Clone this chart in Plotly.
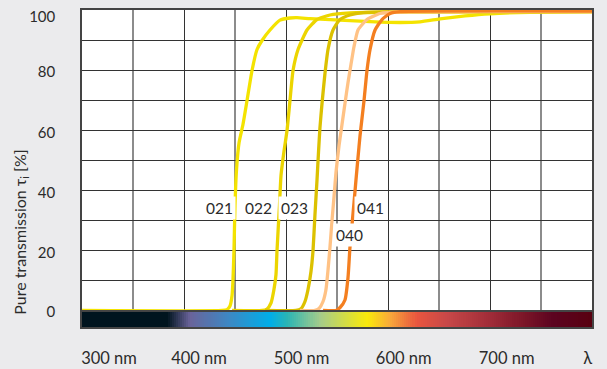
import numpy as np
import plotly.graph_objects as go

# ---- data (wavelength in nm, transmission in %) ----
wl_021 = [300, 437.3, 442.2, 445.1, 447.1, 448, 449, 450, 451.5, 454, 457.8, 461.8, 466.7, 471.6, 476.5,
          484.3, 494.1, 503.9, 510.8, 523.5, 552.9, 582.4, 611.8, 631.4, 651, 675.5, 700, 739.2, 800]
tr_021 = [0, 0, 0.3, 1.5, 5, 10, 20, 35, 47, 56, 62, 70, 80, 87, 90,
          93.5, 96.8, 97.5, 97.6, 97.3, 96.8, 96.3, 96, 96.2, 97.2, 98.2, 98.9, 99.4, 99.6]

wl_022 = [447.1, 476.5, 481.4, 485.3, 488.2, 490.2, 491.2, 493.6, 495.1, 498, 501, 503.9, 506.9, 511.8,
          520.6, 530.4, 543.1, 562.7, 611.8, 800]
tr_022 = [0, 0, 0.5, 2.5, 7, 12, 20, 35, 45, 53, 60, 70, 80, 87,
          93.5, 97, 98.5, 99.2, 99.5, 99.6]

wl_023 = [479.4, 509.8, 514.7, 518.6, 521.6, 524.5, 526.5, 528.4, 530.4, 531.9, 533.3, 535.3, 538.2, 541.2,
          546.1, 552.9, 562.7, 575.5, 611.8, 800]
tr_023 = [0, 0, 0.6, 3, 7, 13, 20, 32, 43.5, 53, 61, 69, 79, 87,
          93.5, 97, 98.5, 99.3, 99.6, 99.6]

wl_040 = [513.7, 527.5, 532.4, 536.3, 539.2, 541.2, 543.1, 545.1, 547.1, 549, 552, 554.9, 557.8, 560.8,
          563.7, 566.7, 570.6, 579.4, 592.2, 611.8, 800]
tr_040 = [0, 0, 0.7, 3, 7, 13.5, 21, 30, 38, 46, 55, 62, 69, 76,
          82, 88, 93.5, 97, 99, 99.5, 99.6]

wl_041 = [536.3, 549, 553, 557.8, 560.8, 562.7, 564.7, 566.7, 568.6, 570.6, 572.5, 574.5, 576.5, 579.4,
          582.4, 587.3, 594.1, 602, 611.8, 800]
tr_041 = [0, 0, 1, 3.5, 11, 21, 28.5, 36, 43.5, 51, 58, 64, 70, 80,
          87, 93.5, 97, 99, 99.6, 99.8]

series_names = ["021", "022", "023", "040", "041"]
series_wl = [wl_021, wl_022, wl_023, wl_040, wl_041]
series_tr = [tr_021, tr_022, tr_023, tr_040, tr_041]
series_colors = ["#f4e300", "#ecd500", "#dcc100", "#ffc285", "#f47f20"]

# label anchor points (nm, %)
label_wl = [434.8, 473.0, 508.8, 561.8, 582.4]
label_tr = [34.2, 34.2, 34.2, 25.2, 34.2]

# x tick labels
xtick_vals = [326.5, 414.7, 515.2, 615.4, 716.3, 795.8]
xtick_text = ["300 nm", "400 nm", "500 nm", "600 nm", "700 nm", "λ"]

ytick_vals = [-0.4, 19.3, 39.3, 59.4, 79.7, 97.8]
ytick_text = ["0", "20", "40", "60", "80", "100"]

# spectrum colour ramp
spec_stops = [0.0, 0.1666, 0.2118, 0.2844, 0.3686, 0.402, 0.4666, 0.5588, 0.604, 0.6568, 0.7156, 0.8, 0.8648, 0.9236, 1.0]
spec_cols = ["#00141e", "#00141e", "#6a639a", "#3f86c2", "#00aee8", "#2ab5b5", "#a5cc8a", "#faea0a",
             "#f9a93a", "#e8553f", "#c84848", "#a02c38", "#7c1628", "#5c0420", "#580010"]

FONT = "Lato"
TXT = "#2b2b2b"
DARK = "#333333"
GRAY = "#8c8c8c"

fig = go.Figure()

# spectrum bar
edges = np.arange(300, 802, 2)
mids = (edges[:-1] + edges[1:]) / 2
fig.add_trace(go.Heatmap(
    x=edges, y=[0, 1], z=[mids], xaxis="x2", yaxis="y2",
    colorscale=[[s, c] for s, c in zip(spec_stops, spec_cols)],
    zmin=300, zmax=800, showscale=False, hoverinfo="skip"))

for name, wl, tr, col in zip(series_names, series_wl, series_tr, series_colors):
    fig.add_trace(go.Scatter(x=wl, y=tr, mode="lines", name=name,
                             line=dict(color=col, width=3.3, shape="spline", smoothing=0.5),
                             showlegend=False))

for name, lx, ly in zip(series_names, label_wl, label_tr):
    fig.add_annotation(x=lx, y=ly, xref="x", yref="y", text=name, showarrow=False,
                       font=dict(family=FONT, size=15.5, color=TXT),
                       bgcolor="white", borderpad=2, xanchor="center", yanchor="middle")

fig.add_annotation(x=-0.12, y=0.3, xref="paper", yref="paper",
                   text="Pure transmission τ<sub>i</sub> [%]", textangle=-90, showarrow=False,
                   font=dict(family=FONT, size=16, color=TXT), xanchor="center", yanchor="middle")

bar_top = 15 / 317
fig.update_layout(
    width=607, height=369,
    margin=dict(l=82, r=15, t=10, b=42, autoexpand=False),
    paper_bgcolor="#ebebed", plot_bgcolor="white",
    font=dict(family=FONT, color=TXT),
    xaxis=dict(domain=[0, 1], range=[300, 800], anchor="y", automargin=False,
               tick0=300, dtick=100, showgrid=True, gridcolor=DARK, gridwidth=1.3,
               minor=dict(tick0=300, dtick=50, showgrid=True, gridcolor=GRAY, gridwidth=1.5),
               showticklabels=False, ticks="", zeroline=False,
               showline=True, linecolor="#444", linewidth=1.5, mirror=True),
    yaxis=dict(domain=[bar_top, 1], range=[-0.5, 100.17], anchor="x", automargin=False,
               tickvals=ytick_vals, ticktext=ytick_text, showgrid=False,
               minor=dict(tick0=0, dtick=10, showgrid=True, gridcolor=DARK, gridwidth=1.3),
               ticks="", ticklabelstandoff=22, tickfont=dict(size=15, family=FONT, color=TXT),
               zeroline=False, showline=True, linecolor="#444", linewidth=1.5, mirror=True),
    xaxis2=dict(domain=[0, 1], range=[300, 800], anchor="y2", matches="x", automargin=False,
                tickvals=xtick_vals, ticktext=xtick_text, ticks="", showgrid=False,
                ticklabelstandoff=15, tickfont=dict(size=16.5, family=FONT, color=TXT),
                zeroline=False, showline=True, linecolor="#444", linewidth=1.5, mirror=True),
    yaxis2=dict(domain=[0, bar_top], range=[0, 1], anchor="x2", showticklabels=False, automargin=False,
                ticks="", showgrid=False, zeroline=False,
                showline=True, linecolor="#444", linewidth=1.5, mirror=True),
)

fig.write_html("out.html")
